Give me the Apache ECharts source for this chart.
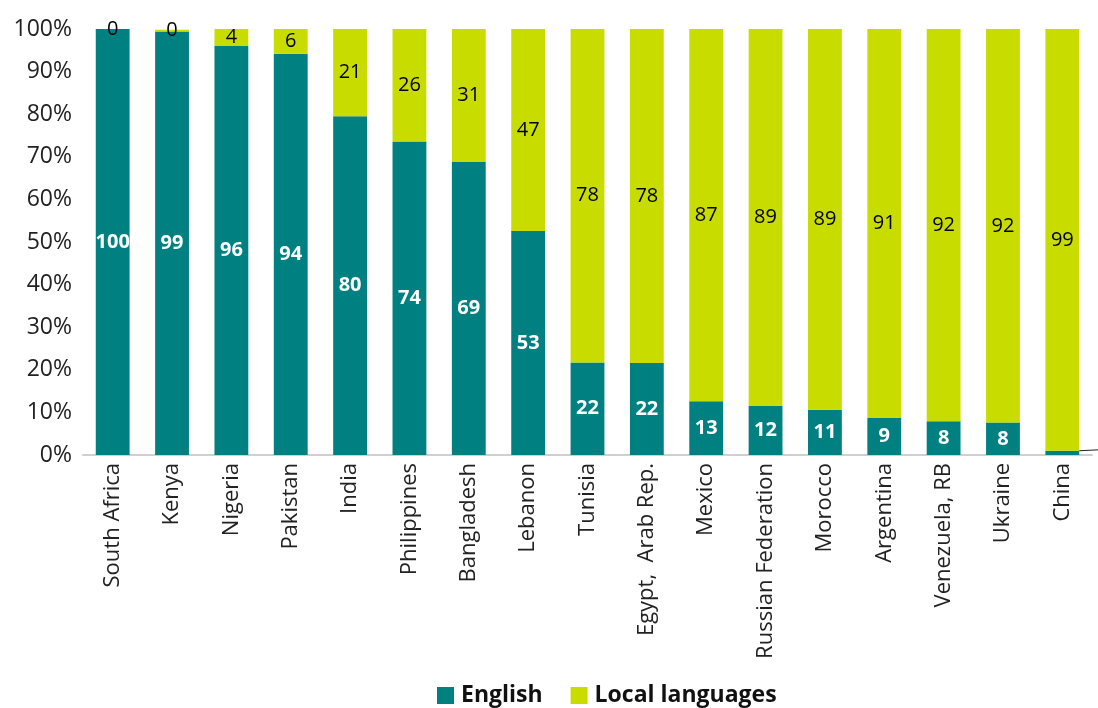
<!DOCTYPE html>
<html>
<head>
<meta charset="utf-8">
<script src="https://cdn.jsdelivr.net/npm/echarts@6/dist/echarts.min.js"></script>
<style>
  html, body { margin: 0; padding: 0; background: #fff; }
  #chart { width: 1098px; height: 708px; }
</style>
</head>
<body>
<div id="chart"></div>
<script>
// Share of content by language, per country (percent)
const countries = ['South Africa', 'Kenya', 'Nigeria', 'Pakistan', 'India', 'Philippines', 'Bangladesh',
  'Lebanon', 'Tunisia', 'Egypt,  Arab Rep.', 'Mexico', 'Russian Federation', 'Morocco', 'Argentina',
  'Venezuela, RB', 'Ukraine', 'China'];
const english = [100, 99.4, 96.0, 94.2, 79.5, 73.6, 68.8, 52.6, 21.7, 21.6, 12.6, 11.5, 10.6, 8.7, 7.9, 7.6, 1.0];
const local   = [0, 0.4, 4.0, 5.8, 20.5, 26.4, 31.2, 47.4, 78.3, 78.4, 87.4, 88.5, 89.4, 91.3, 92.1, 92.4, 99.0];
const yTicks = [0, 10, 20, 30, 40, 50, 60, 70, 80, 90, 100];

const TEAL = '#008080';
const LIME = '#c8dc00';
const FONT = '"Open Sans", "Noto Sans", sans-serif';
const lastIdx = countries.length - 1;

const chart = echarts.init(document.getElementById('chart'), null, { renderer: 'canvas' });
chart.setOption({
  animation: false,
  textStyle: { fontFamily: FONT },
  grid: { left: 83, right: 6, top: 29, bottom: 253 },
  legend: {
    bottom: -4,
    left: 432,
    itemWidth: 17,
    itemHeight: 17,
    itemGap: 28,
    icon: 'rect',
    textStyle: { fontFamily: FONT, fontSize: 23, fontWeight: 'bold', color: '#111', padding: [0, 0, 0, 2] },
    data: ['English', 'Local languages']
  },
  xAxis: {
    type: 'category',
    data: countries,
    axisLine: { lineStyle: { color: '#d0d0d0', width: 2 } },
    axisTick: { show: false },
    axisLabel: { rotate: 90, fontSize: 22, color: '#222', margin: 8, interval: 0 }
  },
  yAxis: {
    type: 'value',
    min: 0,
    max: 100,
    interval: 10,
    axisLine: { show: false },
    axisTick: { show: false },
    splitLine: { show: false },
    axisLabel: {
      fontSize: 23,
      color: '#222',
      margin: 11,
      formatter: v => yTicks.includes(v) ? v + '%' : ''
    }
  },
  series: [
    {
      name: 'English',
      type: 'bar',
      stack: 'share',
      barWidth: '57%',
      itemStyle: { color: TEAL },
      data: english.map((v, i) => i === lastIdx ? {
        value: v,
        label: { position: 'right', color: '#222', fontWeight: 'normal', distance: 40, offset: [0, -14] },
        labelLine: { show: true, lineStyle: { color: '#222', width: 1 } }
      } : v),
      label: {
        show: true,
        position: 'inside',
        color: '#fff',
        fontSize: 20,
        fontWeight: 'bold',
        formatter: p => Math.round(p.value)
      },
      labelLine: { show: false }
    },
    {
      name: 'Local languages',
      type: 'bar',
      stack: 'share',
      barWidth: '57%',
      itemStyle: { color: LIME },
      data: local,
      label: {
        show: true,
        position: 'inside',
        color: '#000',
        fontSize: 20,
        fontWeight: 500,
        formatter: p => Math.round(p.value)
      }
    }
  ]
});
</script>
</body>
</html>
